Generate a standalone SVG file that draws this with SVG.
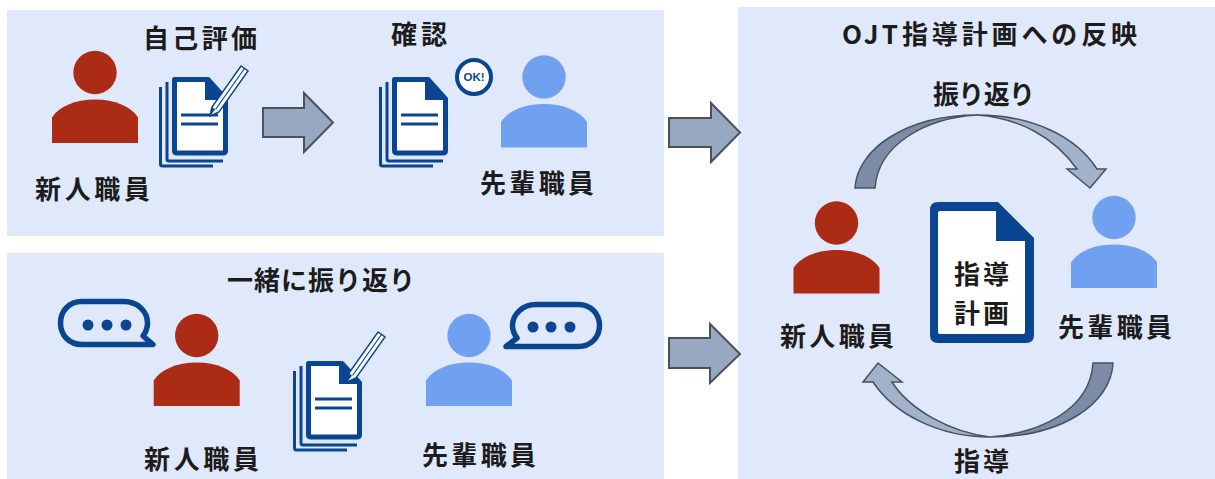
<svg xmlns="http://www.w3.org/2000/svg" width="1215" height="479" viewBox="0 0 1215 479">
<style>
.panel{fill:#e0e9fb}
.red{fill:#ab2b14}
.blue{fill:#70a0f0}
.t{font-family:"Noto Sans CJK JP","Liberation Sans",sans-serif;font-weight:700;font-size:26px;fill:#1c1c1c}
.arrow{fill:#98a8c0;stroke:#48525f;stroke-width:2;stroke-linejoin:miter}
.cdark{fill:#7d8ca6;stroke:#48525f;stroke-width:1.5}
.clight{fill:#a2b2cb;stroke:#48525f;stroke-width:1.5}
.ln{fill:none;stroke:#0a4592;stroke-width:3}
.bub{fill:none;stroke:#0a4592;stroke-width:5.500}
.dot{fill:#0a4592}
</style>
<defs>
<g id="person">
<circle cx="0" cy="0" r="21.7"/>
<path d="M-43 70.500V45C-36 34-20 27 0 27S36 34 43 45V70.500Z"/>
</g>
<g id="doc">
<path class="ln" d="M160.500 87V164Q160.500 166 162.500 166H213"/>
<path class="ln" d="M167 82V159Q167 161 169 161H223"/>
<path d="M174.500 79.500H208L225.500 99V150.500Q225.500 153 223 153H177Q174.500 153 174.500 150.500Z" fill="#fff" stroke="#0a4592" stroke-width="5" stroke-linejoin="round"/>
<path d="M205 78H209L228 99V100H205Z" fill="#0a4592"/>
<path class="ln" d="M181 115H218M181 124H218"/>
</g>
<g id="pencil">
<path d="M0 0L2 -9L31 -50L38 -45L9 -4Z" fill="#fff" stroke="#0a4592" stroke-width="1.500"/>
<path d="M5.500 -6.500L34.500 -47.500" fill="none" stroke="#0a4592" stroke-width="1.200"/>
<path d="M0 0L2 -9L5 -6.500Z" fill="#0a4592"/>
</g>
</defs>
<rect width="1215" height="479" fill="#fff"/>
<g id="panels">
<rect class="panel" x="7" y="10" width="657" height="226"/>
<rect class="panel" x="7" y="253" width="657" height="226"/>
<rect class="panel" x="738" y="7" width="477" height="472"/>
</g>
<g id="connectors">
<path class="arrow" d="M263 108H304V93L333 122.500L304 152V137H263Z"/>
<path class="arrow" d="M669 118H711V103L740 132.500L711 162V147H669Z"/>
<path class="arrow" d="M669 338H710V324L740 354L710 383V368H669Z"/>
<path class="cdark" d="M855 188C857 150 905 115 977 115C925 118 878 145 875 188Z"/>
<path class="clight" d="M977 115C1030 115 1075 135 1097 169H1106L1090 188L1067 169H1077C1055 138 1020 118 977 115Z"/>
<path class="cdark" d="M1113 363C1111 405 1060 437 990 437C1040 433 1090 410 1093 363Z"/>
<path class="clight" d="M990 437C940 437 895 415 873 382H863L878 363L902 382H892C910 410 950 432 990 437Z"/>
</g>
<g id="self-eval">
<text class="t" x="143" y="48" textLength="114">自己評価</text>
<use href="#person" class="red" x="95" y="72.500"/>
<use href="#doc"/>
<use href="#pencil" x="210" y="116"/>
<text class="t" x="35" y="199" textLength="115">新人職員</text>
</g>
<g id="confirm">
<text class="t" x="391" y="44" textLength="56">確認</text>
<use href="#doc" x="220"/>
<g id="ok-badge">
<circle cx="474" cy="77" r="17" fill="#fff" stroke="#0a4592" stroke-width="4"/>
<text x="474" y="81" text-anchor="middle" font-family="'Liberation Sans',sans-serif" font-weight="700" font-size="11.500" fill="#0a4592">OK!</text>
</g>
<use href="#person" class="blue" x="544" y="77"/>
<text class="t" x="480" y="193" textLength="114">先輩職員</text>
</g>
<g id="together">
<text class="t" x="227" y="290" textLength="188">一緒に振り返り</text>
<g id="bubble-left">
<path class="bub" d="M82 301.500H124C137 301.500 147.500 311 147.500 323C147.500 328 146 332 143 336L153 344.500H124H82C69 344.500 60.500 335 60.500 323S69 301.500 82 301.500Z" stroke-linejoin="round"/>
<circle class="dot" cx="88" cy="325" r="5.500"/><circle class="dot" cx="107" cy="325" r="5.500"/><circle class="dot" cx="126" cy="325" r="5.500"/>
</g>
<use href="#person" class="red" x="196.700" y="335.500"/>
<use href="#doc" x="134" y="284"/>
<use href="#pencil" x="347" y="382"/>
<use href="#person" class="blue" x="469" y="335.500"/>
<g id="bubble-right">
<path class="bub" d="M536 304.500H578C591 304.500 599.500 314 599.500 325.500S591 346.500 578 346.500H506L517 338C514 334 512.500 330 512.500 325.500C512.500 314 523 304.500 536 304.500Z" stroke-linejoin="round"/>
<circle class="dot" cx="533" cy="327" r="5.500"/><circle class="dot" cx="551" cy="327" r="5.500"/><circle class="dot" cx="570" cy="327" r="5.500"/>
</g>
<text class="t" x="144" y="469" textLength="115">新人職員</text>
<text class="t" x="422" y="465" textLength="114">先輩職員</text>
</g>
<g id="ojt-plan">
<text class="t" x="842" y="44" textLength="56">OJT</text>
<text class="t" x="902" y="44" textLength="235">指導計画への反映</text>
<text class="t" x="933" y="104" textLength="102">振り返り</text>
<use href="#person" class="red" x="836.500" y="223"/>
<use href="#person" class="blue" x="1114" y="217.500"/>
<g id="plan-doc">
<path d="M938 202H998L1034 238V335Q1034 343 1026 343H938Q930 343 930 335V210Q930 202 938 202Z" fill="#0a4592"/>
<path d="M940 211H996V241H1025V332Q1025 334 1023 334H940Q938 334 938 332V213Q938 211 940 211Z" fill="#fff"/>
<text class="t" x="954" y="284" textLength="55">指導</text>
<text class="t" x="954" y="323" textLength="55">計画</text>
</g>
<text class="t" x="780" y="346" textLength="114">新人職員</text>
<text class="t" x="1058" y="337" textLength="114">先輩職員</text>
<text class="t" x="954" y="471" textLength="55">指導</text>
</g>
</svg>
